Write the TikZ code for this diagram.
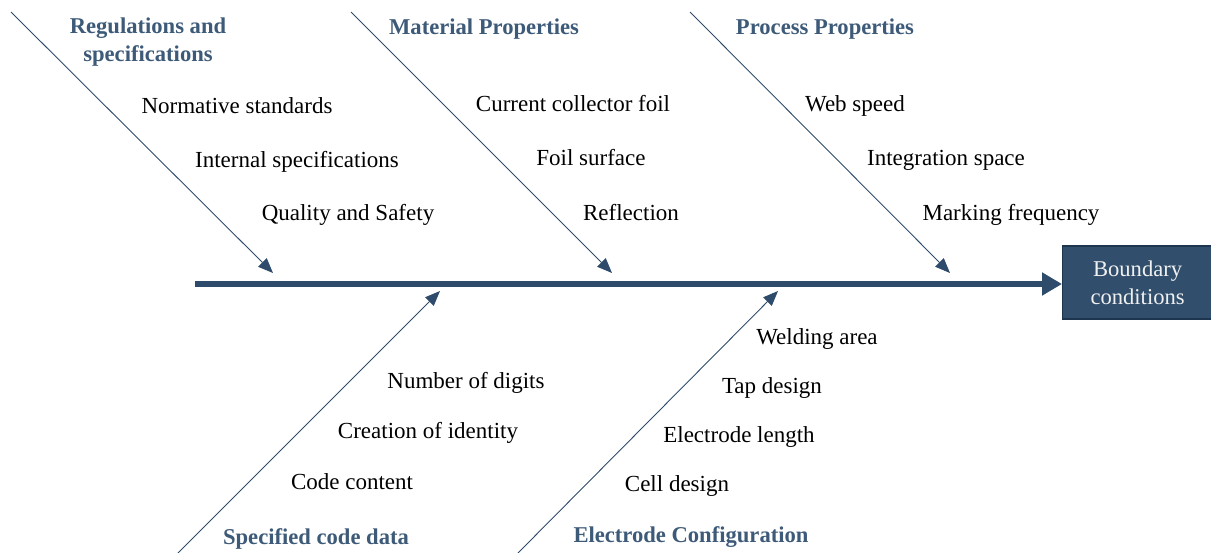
\documentclass[tikz,border=0pt]{standalone}
\usepackage{fontspec}
\setmainfont{Liberation Serif}
\usetikzlibrary{arrows.meta}
\definecolor{bonecol}{HTML}{2E4B6B}
\definecolor{titlecol}{HTML}{3D5A78}
\definecolor{boxfill}{HTML}{314E6C}
\definecolor{boxline}{HTML}{1E3550}
\begin{document}
\begin{tikzpicture}[x=1pt,y=-1pt,
  cause/.style={font=\fontsize{23}{27}\selectfont, text=black, inner sep=0pt, text height=0.68em, text depth=0.22em, yshift=-5pt},
  title/.style={font=\fontsize{22.6}{28}\selectfont\bfseries, text=titlecol, inner sep=0pt, align=center, yshift=-2pt},
  bone/.style={draw=bonecol, line width=0.9pt, -{Triangle[length=15pt,width=12pt]}},
  spine/.style={draw=bonecol, line width=6pt, -{Triangle[length=20pt,width=22pt]}},
  effect/.style={fill=boxfill, draw=boxline, line width=1.2pt, minimum width=150pt, minimum height=73pt,
     text=white!94!black, align=center, font=\fontsize{22.6}{28}\selectfont, inner sep=0pt}]
\useasboundingbox (0,0) rectangle (1211,552);

% effect box and main spine
\node[effect, anchor=west] (effect) at (1062,282.5) {Boundary\\conditions};
\coordinate (tail) at (195,284);
\draw[spine] (tail) -- (tail -| effect.west);

% upper bones
\coordinate (u1s) at (11,12);   \coordinate (u1e) at (273,273);
\coordinate (u2s) at (351,12);  \coordinate (u2e) at (612,273);
\coordinate (u3s) at (690,12);  \coordinate (u3e) at (950,273);
\draw[bone] (u1s) -- (u1e);
\draw[bone] (u2s) -- (u2e);
\draw[bone] (u3s) -- (u3e);

% lower bones
\coordinate (l1s) at (178,553); \coordinate (l1e) at (440,291);
\coordinate (l2s) at (518,553); \coordinate (l2e) at (778,291);
\draw[bone] (l1s) -- (l1e);
\draw[bone] (l2s) -- (l2e);

% category titles
\node[title] (t1) at (148,40) {Regulations and\\specifications};
\node[title] (t2) at (484,27) {Material Properties};
\node[title] (t3) at (825,27) {Process Properties};
\node[title] (t4) at (316,537) {Specified code data};
\node[title] (t5) at (691,535) {Electrode Configuration};

% causes
\node[cause] (c11) at (237,106) {Normative standards};
\node[cause] (c12) at (297,160) {Internal specifications};
\node[cause] (c13) at (348,213) {Quality and Safety};
\node[cause] (c21) at (573,104) {Current collector foil};
\node[cause] (c22) at (591,158) {Foil surface};
\node[cause] (c23) at (631,213) {Reflection};
\node[cause] (c31) at (855,104) {Web speed};
\node[cause] (c32) at (946,158) {Integration space};
\node[cause] (c33) at (1011,213) {Marking frequency};
\node[cause] (c41) at (466,381) {Number of digits};
\node[cause] (c42) at (428,431) {Creation of identity};
\node[cause] (c43) at (352,482) {Code content};
\node[cause] (c51) at (817,337) {Welding area};
\node[cause] (c52) at (772,386) {Tap design};
\node[cause] (c53) at (739,435) {Electrode length};
\node[cause] (c54) at (677,484) {Cell design};
\end{tikzpicture}
\end{document}
